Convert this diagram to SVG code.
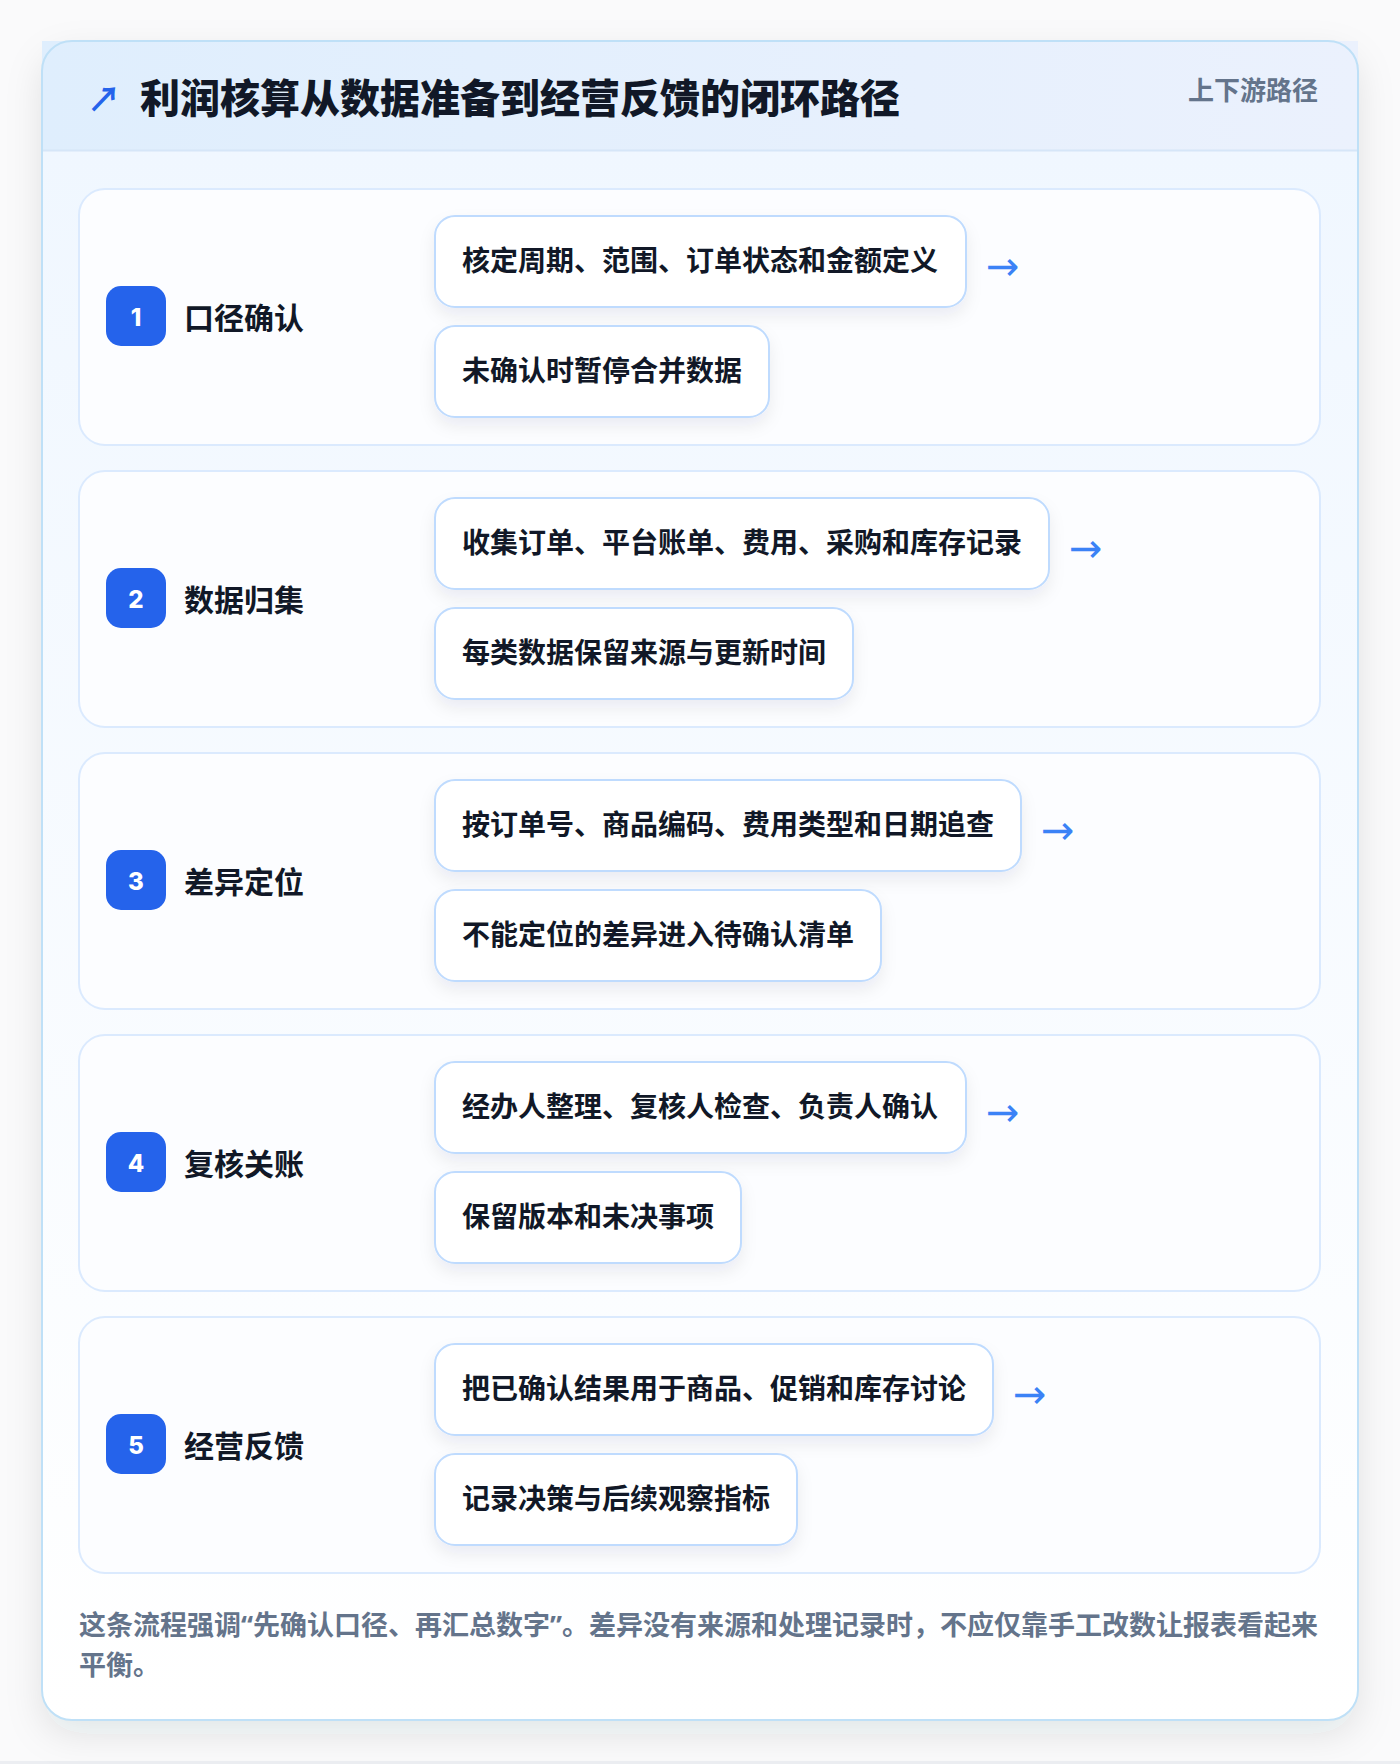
<svg xmlns="http://www.w3.org/2000/svg" width="1400" height="1764" viewBox="0 0 1400 1764">
  <defs>
    <linearGradient id="hdr" x1="0" y1="0" x2="1" y2="0">
      <stop offset="0" stop-color="#dfeefd"/>
      <stop offset="1" stop-color="#ebf1fd"/>
    </linearGradient>
    <linearGradient id="body" x1="0" y1="0" x2="0" y2="1">
      <stop offset="0" stop-color="#f0f7ff"/>
      <stop offset="1" stop-color="#ffffff"/>
    </linearGradient>
    <filter id="cardShadow" x="-10%" y="-10%" width="120%" height="120%">
      <feDropShadow dx="0" dy="14" stdDeviation="18" flood-color="#1e293b" flood-opacity="0.10"/>
    </filter>
    <filter id="boxShadow" x="-10%" y="-30%" width="120%" height="170%">
      <feDropShadow dx="0" dy="8" stdDeviation="8" flood-color="#1e293b" flood-opacity="0.07"/>
    </filter>
    <clipPath id="outerClip">
      <rect x="42" y="41" width="1316" height="1679" rx="30"/>
    </clipPath>
    <style>
      .cjk { font-family: "Noto Sans CJK SC", "Noto Sans", "Liberation Sans", sans-serif; font-weight: 700; }
      .title { font-size: 40px; fill: #111827; font-weight: 900; }
      .tag { font-size: 26px; fill: #64748b; }
      .step { fill: #fcfdff; stroke: #dbeafe; stroke-width: 2; }
      .badge { fill: #2563eb; }
      .num { font-family: "Inter", "Noto Sans", "Liberation Sans", sans-serif; font-weight: 800; font-size: 24px; fill: #ffffff; }
      .label { font-size: 30px; fill: #111827; }
      .box { fill: #ffffff; stroke: #bfdbfe; stroke-width: 2; filter: url(#boxShadow); }
      .boxtext { font-size: 28px; fill: #111827; }
      .arrow { font-family: "DejaVu Sans", "Noto Sans", sans-serif; font-size: 40px; fill: #3b82f6; }
      .foot { font-size: 27px; fill: #64748b; }
      .q { font-family: "Noto Sans", "Liberation Sans", sans-serif; }
    </style>
  </defs>

  <rect x="0" y="0" width="1400" height="1764" fill="#fafafb"/>
  <rect x="0" y="1761" width="1400" height="3" fill="#eceef2"/>

  <g id="frame">
    <rect x="42" y="41" width="1316" height="1679" rx="30" fill="#ffffff" filter="url(#cardShadow)"/>
    <g clip-path="url(#outerClip)">
      <rect x="42" y="150" width="1316" height="1570" fill="url(#body)"/>
    </g>
    <rect x="42" y="41" width="1316" height="110" fill="url(#hdr)"/>
    <line x1="42" y1="150.5" x2="1358" y2="150.5" stroke="#d6e6f8" stroke-width="2"/>
    <rect x="42" y="41" width="1316" height="1679" rx="30" fill="none" stroke="#bfe0f7" stroke-width="2"/>
    <text x="87" y="112" class="cjk" font-size="34" fill="#2563eb">↗</text>
    <text x="140" y="113" class="cjk title">利润核算从数据准备到经营反馈的闭环路径</text>
    <text x="1318" y="100" class="cjk tag" text-anchor="end">上下游路径</text>
  </g>

  <g id="step1">
    <rect class="step" x="79" y="189" width="1241" height="256" rx="26"/>
    <rect class="badge" x="106" y="286" width="60" height="60" rx="15"/>
    <text class="num" x="136" y="326" text-anchor="middle">1</text>
    <text class="cjk label" x="184" y="329">口径确认</text>
    <rect class="box" x="435" y="216" width="531" height="91" rx="20"/>
    <text class="cjk boxtext" x="462" y="271">核定周期、范围、订单状态和金额定义</text>
    <rect class="box" x="435" y="326" width="334" height="91" rx="20"/>
    <text class="cjk boxtext" x="462" y="381">未确认时暂停合并数据</text>
  </g>

  <g id="step2">
    <rect class="step" x="79" y="471" width="1241" height="256" rx="26"/>
    <rect class="badge" x="106" y="568" width="60" height="60" rx="15"/>
    <text class="num" x="136" y="608" text-anchor="middle">2</text>
    <text class="cjk label" x="184" y="611">数据归集</text>
    <rect class="box" x="435" y="498" width="614" height="91" rx="20"/>
    <text class="cjk boxtext" x="462" y="553">收集订单、平台账单、费用、采购和库存记录</text>
    <rect class="box" x="435" y="608" width="418" height="91" rx="20"/>
    <text class="cjk boxtext" x="462" y="663">每类数据保留来源与更新时间</text>
  </g>

  <g id="step3">
    <rect class="step" x="79" y="753" width="1241" height="256" rx="26"/>
    <rect class="badge" x="106" y="850" width="60" height="60" rx="15"/>
    <text class="num" x="136" y="890" text-anchor="middle">3</text>
    <text class="cjk label" x="184" y="893">差异定位</text>
    <rect class="box" x="435" y="780" width="586" height="91" rx="20"/>
    <text class="cjk boxtext" x="462" y="835">按订单号、商品编码、费用类型和日期追查</text>
    <rect class="box" x="435" y="890" width="446" height="91" rx="20"/>
    <text class="cjk boxtext" x="462" y="945">不能定位的差异进入待确认清单</text>
  </g>

  <g id="step4">
    <rect class="step" x="79" y="1035" width="1241" height="256" rx="26"/>
    <rect class="badge" x="106" y="1132" width="60" height="60" rx="15"/>
    <text class="num" x="136" y="1172" text-anchor="middle">4</text>
    <text class="cjk label" x="184" y="1175">复核关账</text>
    <rect class="box" x="435" y="1062" width="531" height="91" rx="20"/>
    <text class="cjk boxtext" x="462" y="1117">经办人整理、复核人检查、负责人确认</text>
    <rect class="box" x="435" y="1172" width="306" height="91" rx="20"/>
    <text class="cjk boxtext" x="462" y="1227">保留版本和未决事项</text>
  </g>

  <g id="step5">
    <rect class="step" x="79" y="1317" width="1241" height="256" rx="26"/>
    <rect class="badge" x="106" y="1414" width="60" height="60" rx="15"/>
    <text class="num" x="136" y="1454" text-anchor="middle">5</text>
    <text class="cjk label" x="184" y="1457">经营反馈</text>
    <rect class="box" x="435" y="1344" width="558" height="91" rx="20"/>
    <text class="cjk boxtext" x="462" y="1399">把已确认结果用于商品、促销和库存讨论</text>
    <rect class="box" x="435" y="1454" width="362" height="91" rx="20"/>
    <text class="cjk boxtext" x="462" y="1509">记录决策与后续观察指标</text>
  </g>

  <g id="connectors">
    <text class="arrow" x="986" y="280">→</text>
    <text class="arrow" x="1069" y="562">→</text>
    <text class="arrow" x="1041" y="844">→</text>
    <text class="arrow" x="986" y="1126">→</text>
    <text class="arrow" x="1013" y="1408">→</text>
  </g>

  <g id="footer">
    <text class="cjk foot" x="79" y="1635">这条流程强调<tspan class="q">“</tspan>先确认口径、再汇总数字<tspan class="q">”</tspan>。差异没有来源和处理记录时，不应仅靠手工改数让报表看起来</text>
    <text class="cjk foot" x="79" y="1675">平衡。</text>
  </g>
</svg>
